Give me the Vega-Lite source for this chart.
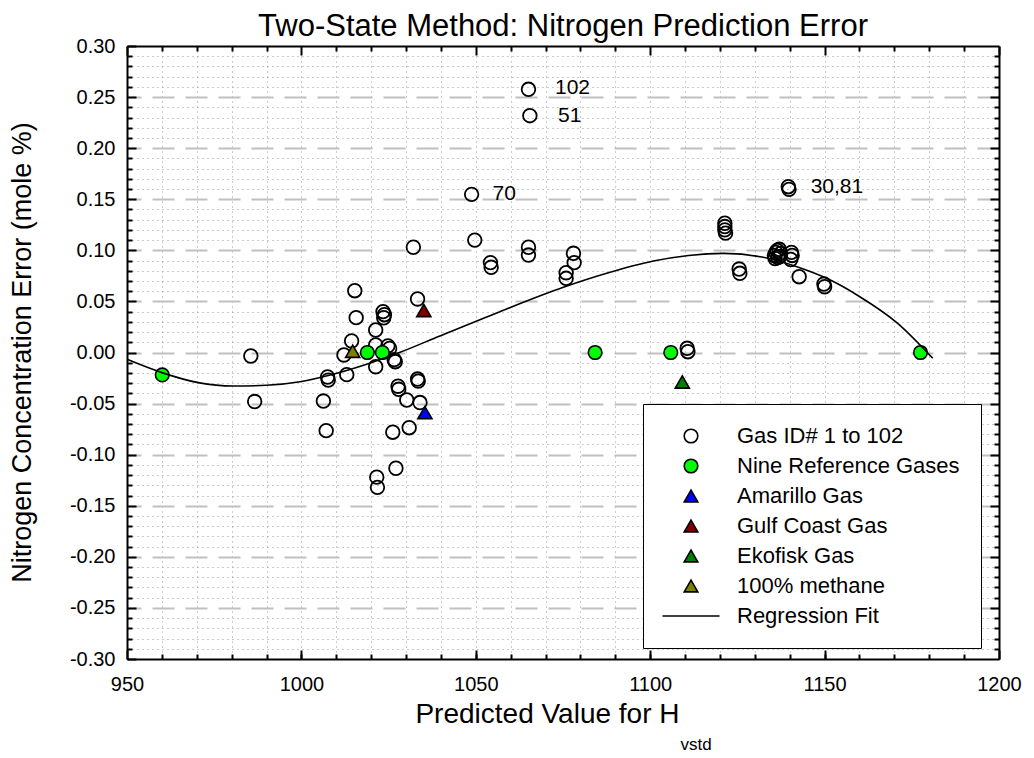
{
  "$schema": "https://vega.github.io/schema/vega-lite/v6.json",
  "width": 872,
  "height": 613,
  "autosize": {"type": "none"},
  "padding": {"left": 127, "top": 46, "right": 35, "bottom": 99},
  "background": "white",
  "config": {
    "font": "Liberation Sans",
    "view": {"stroke": null},
    "axis": {
      "labelFont": "Liberation Sans",
      "titleFont": "Liberation Sans",
      "labelColor": "black",
      "titleColor": "black",
      "titleFontWeight": "normal",
      "tickColor": "black",
      "tickWidth": 2,
      "domainColor": "black",
      "domainWidth": 2,
      "labelFlush": false,
      "labelOverlap": false
    }
  },
  "title": {
    "text": "Two-State Method: Nitrogen Prediction Error",
    "fontSize": 31,
    "fontWeight": "normal",
    "font": "Liberation Sans",
    "color": "black",
    "anchor": "middle",
    "offset": -7
  },
  "datasets": {
    "pts": [
      {"x": 1032.1, "y": 0.103, "series": "Gas ID# 1 to 102"},
      {"x": 1015.3, "y": 0.0605, "series": "Gas ID# 1 to 102"},
      {"x": 1033.3, "y": 0.0524, "series": "Gas ID# 1 to 102"},
      {"x": 1015.7, "y": 0.0341, "series": "Gas ID# 1 to 102"},
      {"x": 1023.4, "y": 0.040, "series": "Gas ID# 1 to 102"},
      {"x": 1023.8, "y": 0.037, "series": "Gas ID# 1 to 102"},
      {"x": 1023.6, "y": 0.034, "series": "Gas ID# 1 to 102"},
      {"x": 1021.3, "y": 0.022, "series": "Gas ID# 1 to 102"},
      {"x": 1014.4, "y": 0.0113, "series": "Gas ID# 1 to 102"},
      {"x": 1012.2, "y": -0.0024, "series": "Gas ID# 1 to 102"},
      {"x": 1021.3, "y": 0.0074, "series": "Gas ID# 1 to 102"},
      {"x": 1024.8, "y": 0.0065, "series": "Gas ID# 1 to 102"},
      {"x": 1025.3, "y": 0.004, "series": "Gas ID# 1 to 102"},
      {"x": 1021.3, "y": -0.0139, "series": "Gas ID# 1 to 102"},
      {"x": 1026.6, "y": -0.007, "series": "Gas ID# 1 to 102"},
      {"x": 1026.9, "y": -0.009, "series": "Gas ID# 1 to 102"},
      {"x": 985.5, "y": -0.0034, "series": "Gas ID# 1 to 102"},
      {"x": 986.6, "y": -0.048, "series": "Gas ID# 1 to 102"},
      {"x": 1007.5, "y": -0.024, "series": "Gas ID# 1 to 102"},
      {"x": 1007.7, "y": -0.027, "series": "Gas ID# 1 to 102"},
      {"x": 1013.0, "y": -0.0217, "series": "Gas ID# 1 to 102"},
      {"x": 1006.3, "y": -0.0475, "series": "Gas ID# 1 to 102"},
      {"x": 1007.1, "y": -0.0765, "series": "Gas ID# 1 to 102"},
      {"x": 1027.7, "y": -0.033, "series": "Gas ID# 1 to 102"},
      {"x": 1027.9, "y": -0.036, "series": "Gas ID# 1 to 102"},
      {"x": 1033.3, "y": -0.026, "series": "Gas ID# 1 to 102"},
      {"x": 1033.5, "y": -0.028, "series": "Gas ID# 1 to 102"},
      {"x": 1030.2, "y": -0.0465, "series": "Gas ID# 1 to 102"},
      {"x": 1034.0, "y": -0.049, "series": "Gas ID# 1 to 102"},
      {"x": 1030.9, "y": -0.0736, "series": "Gas ID# 1 to 102"},
      {"x": 1026.2, "y": -0.078, "series": "Gas ID# 1 to 102"},
      {"x": 1027.1, "y": -0.1133, "series": "Gas ID# 1 to 102"},
      {"x": 1021.6, "y": -0.122, "series": "Gas ID# 1 to 102"},
      {"x": 1021.8, "y": -0.132, "series": "Gas ID# 1 to 102"},
      {"x": 1065.1, "y": 0.2576, "series": "Gas ID# 1 to 102"},
      {"x": 1065.5, "y": 0.2318, "series": "Gas ID# 1 to 102"},
      {"x": 1048.8, "y": 0.1548, "series": "Gas ID# 1 to 102"},
      {"x": 1049.7, "y": 0.110, "series": "Gas ID# 1 to 102"},
      {"x": 1054.2, "y": 0.088, "series": "Gas ID# 1 to 102"},
      {"x": 1054.4, "y": 0.0834, "series": "Gas ID# 1 to 102"},
      {"x": 1065.1, "y": 0.103, "series": "Gas ID# 1 to 102"},
      {"x": 1065.1, "y": 0.0954, "series": "Gas ID# 1 to 102"},
      {"x": 1078.0, "y": 0.0971, "series": "Gas ID# 1 to 102"},
      {"x": 1078.2, "y": 0.088, "series": "Gas ID# 1 to 102"},
      {"x": 1075.9, "y": 0.0781, "series": "Gas ID# 1 to 102"},
      {"x": 1075.9, "y": 0.0726, "series": "Gas ID# 1 to 102"},
      {"x": 1121.4, "y": 0.1265, "series": "Gas ID# 1 to 102"},
      {"x": 1121.4, "y": 0.1233, "series": "Gas ID# 1 to 102"},
      {"x": 1121.4, "y": 0.1200, "series": "Gas ID# 1 to 102"},
      {"x": 1121.6, "y": 0.1168, "series": "Gas ID# 1 to 102"},
      {"x": 1125.5, "y": 0.0817, "series": "Gas ID# 1 to 102"},
      {"x": 1125.7, "y": 0.0775, "series": "Gas ID# 1 to 102"},
      {"x": 1110.6, "y": 0.0041, "series": "Gas ID# 1 to 102"},
      {"x": 1110.8, "y": 0.0008, "series": "Gas ID# 1 to 102"},
      {"x": 1139.6, "y": 0.1623, "series": "Gas ID# 1 to 102"},
      {"x": 1139.8, "y": 0.1597, "series": "Gas ID# 1 to 102"},
      {"x": 1135.6, "y": 0.095, "series": "Gas ID# 1 to 102"},
      {"x": 1136.0, "y": 0.098, "series": "Gas ID# 1 to 102"},
      {"x": 1136.4, "y": 0.100, "series": "Gas ID# 1 to 102"},
      {"x": 1137.0, "y": 0.101, "series": "Gas ID# 1 to 102"},
      {"x": 1137.4, "y": 0.097, "series": "Gas ID# 1 to 102"},
      {"x": 1136.6, "y": 0.093, "series": "Gas ID# 1 to 102"},
      {"x": 1135.8, "y": 0.092, "series": "Gas ID# 1 to 102"},
      {"x": 1137.2, "y": 0.094, "series": "Gas ID# 1 to 102"},
      {"x": 1140.5, "y": 0.098, "series": "Gas ID# 1 to 102"},
      {"x": 1140.7, "y": 0.095, "series": "Gas ID# 1 to 102"},
      {"x": 1140.3, "y": 0.091, "series": "Gas ID# 1 to 102"},
      {"x": 1142.7, "y": 0.0742, "series": "Gas ID# 1 to 102"},
      {"x": 1149.8, "y": 0.067, "series": "Gas ID# 1 to 102"},
      {"x": 1150.0, "y": 0.0644, "series": "Gas ID# 1 to 102"},
      {"x": 960.1, "y": -0.022, "series": "Nine Reference Gases"},
      {"x": 1018.9, "y": 0.0, "series": "Nine Reference Gases"},
      {"x": 1023.2, "y": 0.0, "series": "Nine Reference Gases"},
      {"x": 1084.2, "y": 0.0, "series": "Nine Reference Gases"},
      {"x": 1105.9, "y": 0.0, "series": "Nine Reference Gases"},
      {"x": 1177.5, "y": 0.0, "series": "Nine Reference Gases"},
      {"x": 1035.4, "y": -0.0589, "series": "Amarillo Gas"},
      {"x": 1035.1, "y": 0.0411, "series": "Gulf Coast Gas"},
      {"x": 1109.2, "y": -0.0289, "series": "Ekofisk Gas"},
      {"x": 1014.7, "y": 0.0012, "series": "100% methane"}
    ],
    "fit": [
      {"x": 950.0, "y": -0.0067},
      {"x": 960.0, "y": -0.0197},
      {"x": 970.4, "y": -0.0295},
      {"x": 980.5, "y": -0.0328},
      {"x": 990.0, "y": -0.0321},
      {"x": 999.6, "y": -0.0286},
      {"x": 1009.1, "y": -0.0213},
      {"x": 1018.7, "y": -0.0115},
      {"x": 1028.3, "y": 0.0002},
      {"x": 1039.7, "y": 0.0162},
      {"x": 1056.9, "y": 0.040},
      {"x": 1075.1, "y": 0.0638},
      {"x": 1088.0, "y": 0.078},
      {"x": 1100.9, "y": 0.0895},
      {"x": 1111.0, "y": 0.0950},
      {"x": 1121.0, "y": 0.097},
      {"x": 1131.5, "y": 0.0938},
      {"x": 1142.9, "y": 0.083},
      {"x": 1150.6, "y": 0.0726},
      {"x": 1160.1, "y": 0.0546},
      {"x": 1170.7, "y": 0.0292},
      {"x": 1181.0, "y": -0.0057}
    ],
    "labels": [
      {"x": 1072.7, "y": 0.2589, "text": "102"},
      {"x": 1073.6, "y": 0.2315, "text": "51"},
      {"x": 1054.8, "y": 0.1548, "text": "70"},
      {"x": 1146.0, "y": 0.1623, "text": "30,81"}
    ]
  },
  "layer": [
    {
      "data": {"name": "pts"},
      "transform": [{"filter": "datum.series === 'Gas ID# 1 to 102'"}],
      "mark": {"type": "point", "filled": true, "stroke": "black", "strokeWidth": 1.8, "size": 185, "opacity": 1},
      "encoding": {
        "x": {"field": "x", "type": "quantitative",
          "scale": {"domain": [950, 1200], "nice": false, "zero": false},
          "axis": {"orient": "bottom", "values": [950, 1000, 1050, 1100, 1150, 1200], "format": "d", "tickSize": -9, "labelFontSize": 20, "labelPadding": 24, "grid": false, "domain": true,
            "title": "Predicted Value for H", "titleFontSize": 28, "titleX": 552, "titleY": 63, "titleAlign": "right", "titleBaseline": "alphabetic", "titleAnchor": null}},
        "y": {"field": "y", "type": "quantitative",
          "scale": {"domain": [-0.3, 0.3], "nice": false, "zero": false},
          "axis": {"orient": "left", "values": [-0.3, -0.25, -0.2, -0.15, -0.1, -0.05, 0, 0.05, 0.1, 0.15, 0.2, 0.25, 0.3],
            "labelExpr": "replace(format(datum.value, '.2f'), '\u2212', '-')", "tickSize": -9, "labelFontSize": 20, "labelPadding": 21, "grid": false, "domain": true,
            "title": "Nitrogen Concentration Error (mole %)", "titleFontSize": 27, "titleX": -105, "titleY": 306, "titleAngle": -90, "titleAlign": "center", "titleBaseline": "middle"}},
        "shape": {"field": "series", "type": "nominal",
          "scale": {"domain": ["Gas ID# 1 to 102", "Nine Reference Gases", "Amarillo Gas", "Gulf Coast Gas", "Ekofisk Gas", "100% methane", "Regression Fit"],
            "range": ["circle", "circle", "triangle-up", "triangle-up", "triangle-up", "triangle-up", "stroke"]},
          "legend": {"orient": "none", "legendX": 516, "legendY": 358, "title": null, "labelFontSize": 22, "labelFont": "Liberation Sans", "labelColor": "black",
            "symbolSize": 185, "symbolStrokeWidth": 1.5, "symbolStrokeColor": "black", "padding": 21, "rowPadding": 8, "symbolOffset": 16, "labelOffset": 35,
            "strokeColor": "black", "fillColor": "white", "labelLimit": 400,
            "encoding": {
              "symbols": {
                "size": {"value": {"expr": "datum.value === 'Regression Fit' ? 3249 : 185"}},
                "strokeWidth": {"value": 1.6},
                "stroke": {"value": "black"}
              }
            }}},
        "fill": {"field": "series", "type": "nominal",
          "scale": {"domain": ["Gas ID# 1 to 102", "Nine Reference Gases", "Amarillo Gas", "Gulf Coast Gas", "Ekofisk Gas", "100% methane", "Regression Fit"],
            "range": ["transparent", "#00ff00", "#0000ff", "#800000", "#008000", "#808000", "transparent"]}}
      }
    },
    {
      "data": {"name": "pts"},
      "transform": [{"filter": "datum.series === 'Nine Reference Gases'"}],
      "mark": {"type": "point", "filled": true, "stroke": "black", "strokeWidth": 1.6, "size": 185, "opacity": 1},
      "encoding": {
        "x": {"field": "x", "type": "quantitative",
          "axis": {"orient": "bottom", "values": [960, 970, 980, 990, 1000, 1010, 1020, 1030, 1040, 1050, 1060, 1070, 1080, 1090, 1100, 1110, 1120, 1130, 1140, 1150, 1160, 1170, 1180, 1190],
            "tickSize": -5, "labels": false, "domain": false, "title": null, "grid": true, "gridDash": [1, 4], "gridColor": "#999999", "gridWidth": 1}},
        "y": {"field": "y", "type": "quantitative",
          "axis": {"orient": "left", "values": [-0.29, -0.28, -0.27, -0.26, -0.24, -0.23, -0.22, -0.21, -0.19, -0.18, -0.17, -0.16, -0.14, -0.13, -0.12, -0.11, -0.09, -0.08, -0.07, -0.06, -0.04, -0.03, -0.02, -0.01, 0.01, 0.02, 0.03, 0.04, 0.06, 0.07, 0.08, 0.09, 0.11, 0.12, 0.13, 0.14, 0.16, 0.17, 0.18, 0.19, 0.21, 0.22, 0.23, 0.24, 0.26, 0.27, 0.28, 0.29],
            "tickSize": -5, "labels": false, "domain": false, "title": null, "grid": true, "gridDash": [1, 4], "gridColor": "#999999", "gridWidth": 1}},
        "shape": {"field": "series", "type": "nominal"},
        "fill": {"field": "series", "type": "nominal"}
      }
    },
    {
      "data": {"name": "pts"},
      "transform": [{"filter": "datum.series !== 'Gas ID# 1 to 102' && datum.series !== 'Nine Reference Gases'"}],
      "mark": {"type": "point", "filled": true, "stroke": "black", "strokeWidth": 1.6, "size": 200, "opacity": 1},
      "encoding": {
        "x": {"field": "x", "type": "quantitative",
          "axis": {"orient": "top", "values": [950, 1000, 1050, 1100, 1150, 1200], "tickSize": -9, "labels": false, "domain": true, "title": null, "grid": false}},
        "y": {"field": "y", "type": "quantitative",
          "axis": {"orient": "right", "values": [-0.25, -0.2, -0.15, -0.1, -0.05, 0, 0.05, 0.1, 0.15, 0.2, 0.25],
            "tickSize": -9, "labels": false, "domain": true, "title": null, "grid": true, "gridDash": [22, 11], "gridColor": "#c0c0c0", "gridWidth": 2}},
        "shape": {"field": "series", "type": "nominal"},
        "fill": {"field": "series", "type": "nominal"}
      }
    },
    {
      "data": {"name": "fit"},
      "mark": {"type": "line", "stroke": "black", "strokeWidth": 1.6, "interpolate": "monotone"},
      "encoding": {
        "x": {"field": "x", "type": "quantitative",
          "axis": {"orient": "top", "values": [960, 970, 980, 990, 1010, 1020, 1030, 1040, 1060, 1070, 1080, 1090, 1110, 1120, 1130, 1140, 1160, 1170, 1180, 1190],
            "tickSize": -5, "labels": false, "domain": false, "title": null, "grid": false}},
        "y": {"field": "y", "type": "quantitative",
          "axis": {"orient": "right", "values": [-0.29, -0.28, -0.27, -0.26, -0.24, -0.23, -0.22, -0.21, -0.19, -0.18, -0.17, -0.16, -0.14, -0.13, -0.12, -0.11, -0.09, -0.08, -0.07, -0.06, -0.04, -0.03, -0.02, -0.01, 0.01, 0.02, 0.03, 0.04, 0.06, 0.07, 0.08, 0.09, 0.11, 0.12, 0.13, 0.14, 0.16, 0.17, 0.18, 0.19, 0.21, 0.22, 0.23, 0.24, 0.26, 0.27, 0.28, 0.29],
            "tickSize": -5, "labels": false, "domain": false, "title": null, "grid": false}}
      }
    },
    {
      "data": {"name": "labels"},
      "mark": {"type": "text", "align": "left", "baseline": "middle", "fontSize": 21, "font": "Liberation Sans", "color": "black"},
      "encoding": {
        "x": {"field": "x", "type": "quantitative",
          "axis": {"orient": "bottom", "ticks": false, "labels": false, "domain": false, "grid": false,
            "title": "vstd", "titleFontSize": 17, "titleX": 553, "titleY": 90, "titleAlign": "left", "titleBaseline": "alphabetic", "titleAnchor": null}},
        "y": {"field": "y", "type": "quantitative", "axis": null},
        "text": {"field": "text", "type": "nominal"}
      }
    }
  ],
  "resolve": {"axis": {"x": "independent", "y": "independent"}}
}
